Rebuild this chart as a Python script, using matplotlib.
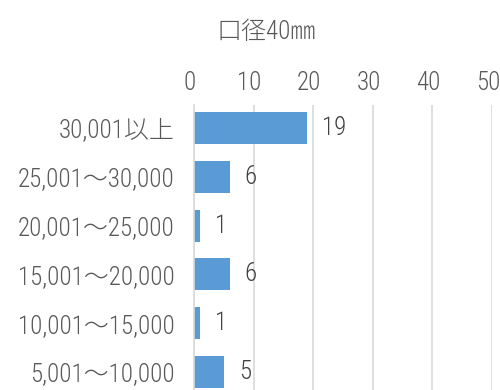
import matplotlib
matplotlib.use("Agg")
import matplotlib.pyplot as plt
from matplotlib.transforms import ScaledTranslation

plt.rcParams['font.family'] = ['Roboto Condensed', 'Noto Sans CJK JP', 'DejaVu Sans']
plt.rcParams['font.weight'] = 'light'

title = "口径40㎜"
categories = ["30,001以上", "25,001～30,000", "20,001～25,000",
              "15,001～20,000", "10,001～15,000", "5,001～10,000"]
values = [19, 6, 1, 6, 1, 5]
xticks = [0, 10, 20, 30, 40, 50]

bar_color = "#5B9BD5"
grid_color = "#D9D9D9"
label_color = "#595959"
value_color = "#404040"

fig = plt.figure(figsize=(5.0, 3.9), dpi=100)
ax = fig.add_axes([0.388, 0.0, 0.596, 0.7308])

pos = list(range(len(categories)))
ax.barh(pos, values, height=0.656, color=bar_color, zorder=3)

for p, v in zip(pos, values):
    ax.text(v + 2.5, p, str(v), va="center", ha="left",
            fontsize=18, color=value_color)

ax.set_xlim(0, 50)
ax.set_ylim(5.37, -0.47)
ax.set_xticks(xticks)
ax.set_xticklabels([str(t) for t in xticks])
ax.set_yticks(pos)
ax.set_yticklabels(categories)

ax.xaxis.tick_top()
ax.tick_params(axis="x", length=0, pad=7, labelsize=18, labelcolor=label_color)
ax.tick_params(axis="y", length=0, pad=14, labelsize=18, labelcolor=label_color)

# nudge the top tick labels slightly left of their gridlines
shift = ScaledTranslation(-4 / 100, 0, fig.dpi_scale_trans)
for lbl in ax.get_xticklabels():
    lbl.set_transform(lbl.get_transform() + shift)

ax.grid(axis="x", color=grid_color, linewidth=1.2, zorder=0)
for s in ["top", "right", "bottom"]:
    ax.spines[s].set_visible(False)
ax.spines["left"].set_color(grid_color)
ax.spines["left"].set_linewidth(1.2)
ax.spines["left"].set_zorder(4)

fig.text(266 / 500, 1 - 32 / 390, title, ha="center", va="center",
         fontsize=18, color=label_color)

fig.savefig("out.png", dpi=100)
